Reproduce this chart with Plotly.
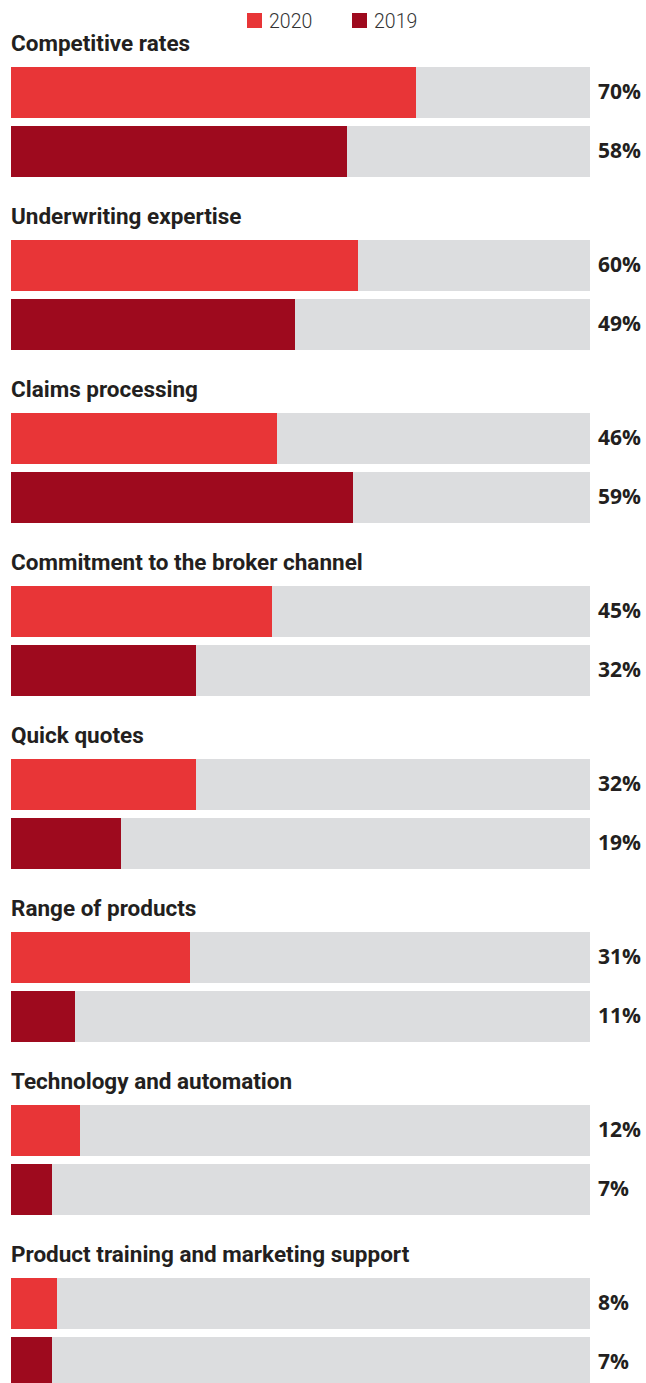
import plotly.graph_objects as go

categories = [
    "Competitive rates",
    "Underwriting expertise",
    "Claims processing",
    "Commitment to the broker channel",
    "Quick quotes",
    "Range of products",
    "Technology and automation",
    "Product training and marketing support",
]
series_names = ["2020", "2019"]
values_2020 = [70, 60, 46, 45, 32, 31, 12, 8]
values_2019 = [58, 49, 59, 32, 19, 11, 7, 7]
full_scale = 100

W, H = 646, 1383
LEFT_PX, RIGHT_PX = 11, 590
k = (RIGHT_PX - LEFT_PX) / full_scale
x_range = [-LEFT_PX / k, (W - LEFT_PX) / k]

GROUP = 173
BAR_H = 51
y_label = [43 + GROUP * i for i in range(len(categories))]
y_2020 = [92.5 + GROUP * i for i in range(len(categories))]
y_2019 = [151.5 + GROUP * i for i in range(len(categories))]

C2020 = "#E83537"
C2019 = "#9E0A1E"
GREY = "#DCDDDF"
TXT = "#231F20"

fig = go.Figure()
fig.add_trace(go.Bar(
    x=[full_scale] * (2 * len(categories)), y=y_2020 + y_2019, orientation="h",
    width=BAR_H, marker=dict(color=GREY, line=dict(width=0)), showlegend=False,
    hoverinfo="skip"))
fig.add_trace(go.Bar(
    x=values_2020, y=y_2020, orientation="h", width=BAR_H, name=series_names[0],
    marker=dict(color=C2020, line=dict(width=0)), showlegend=False))
fig.add_trace(go.Bar(
    x=values_2019, y=y_2019, orientation="h", width=BAR_H, name=series_names[1],
    marker=dict(color=C2019, line=dict(width=0)), showlegend=False))

ann = []
for i, c in enumerate(categories):
    ann.append(dict(x=0, y=y_label[i], text=c, xanchor="left", yanchor="middle",
                    showarrow=False, xshift=-2,
                    font=dict(family="Roboto", size=22.5, color=TXT, weight="bold")))
    for yv, v in ((y_2020[i], values_2020[i]), (y_2019[i], values_2019[i])):
        ann.append(dict(x=full_scale, y=yv, text=f"{v}%", xanchor="left",
                        yanchor="middle", showarrow=False, xshift=6, yshift=2,
                        font=dict(family="Open Sans", size=21, color=TXT, weight="bold")))

# legend (swatch + label), positioned in pixel space at the top
shapes = []
legend_items = [(series_names[0], C2020, 247), (series_names[1], C2019, 352)]
for name, col, px in legend_items:
    x0 = (px - LEFT_PX) / k
    x1 = (px + 15 - LEFT_PX) / k
    shapes.append(dict(type="rect", xref="x", yref="y", x0=x0, x1=x1, y0=13, y1=28,
                       fillcolor=col, line=dict(width=0)))
    ann.append(dict(x=x1, y=21, text=name, xanchor="left", yanchor="middle",
                    showarrow=False, xshift=5,
                    font=dict(family="Roboto", size=19.5, color="#333333", weight=300)))

fig.update_layout(
    width=W, height=H, margin=dict(l=0, r=0, t=0, b=0),
    paper_bgcolor="white", plot_bgcolor="white",
    barmode="overlay", bargap=0,
    xaxis=dict(range=x_range, visible=False, fixedrange=True),
    yaxis=dict(range=[H, 0], visible=False, fixedrange=True),
    annotations=ann, shapes=shapes,
    showlegend=False,
)

fig.write_html("out.html")
